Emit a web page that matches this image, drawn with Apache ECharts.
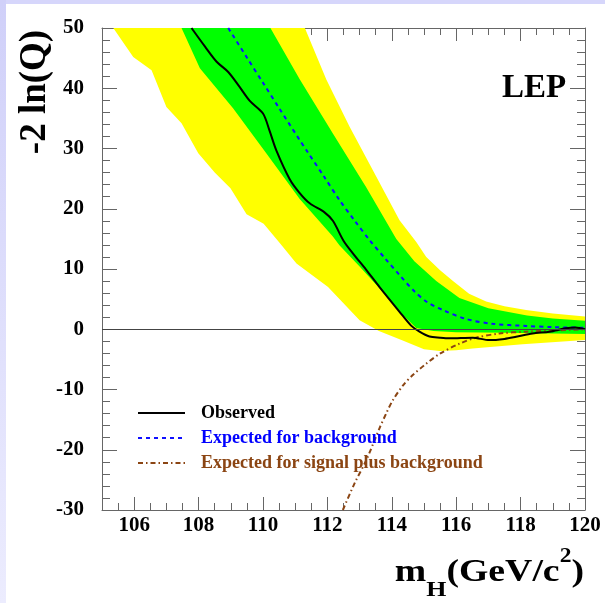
<!DOCTYPE html>
<html>
<head>
<meta charset="utf-8">
<title>LEP -2 ln(Q)</title>
<script src="https://cdn.jsdelivr.net/npm/echarts@6/dist/echarts.min.js"></script>
<style>
html, body { margin: 0; padding: 0; background: #fff; }
#chartMain { width: 605px; height: 603px; }
</style>
</head>
<body>
<div id="chartMain"></div>
<script>
// [mH, -2ln(Q)]
var observed = [
    [107.78, 50], [108.2, 46.9], [108.56, 44.4], [108.92, 42.7], [109.25, 40.4],
    [109.59, 37.9], [110.0, 35.8], [110.2, 33.0], [110.42, 29.6], [110.83, 24.9],
    [111.14, 22.6], [111.45, 20.9], [111.91, 19.4], [112.17, 18.0], [112.5, 14.7],
    [112.79, 12.6], [113.2, 9.9], [113.62, 7.0], [114.24, 2.9], [114.6, 0.6],
    [114.86, -0.4], [115.17, -1.2], [115.5, -1.4], [115.79, -1.5], [116.51, -1.4],
    [117.03, -1.8], [117.5, -1.6], [117.86, -1.25], [118.37, -0.7], [118.9, -0.4],
    [119.41, 0.17], [119.7, 0.3], [120, 0.0]
];
var expectedBkg = [
    [108.92, 50], [109.5, 45.1], [110.0, 40.9], [110.5, 36.7], [111.14, 31.4],
    [111.35, 29.7], [111.9, 25.3], [112.38, 21.4], [112.85, 18.0], [113.31, 14.8],
    [113.8, 11.7], [114.24, 9.0], [114.7, 6.3], [115.1, 4.5], [115.58, 3.2],
    [116.31, 1.7], [117.13, 0.9], [118.17, 0.55], [119.0, 0.35], [120, 0.25]
];
var expectedSigBkg = [
    [112.48, -30], [112.85, -25.5], [113.21, -21.7], [113.62, -16.4], [113.85, -13.7],
    [114.03, -11.8], [114.35, -9.3], [114.65, -7.6], [115.05, -5.8], [115.48, -4.1],
    [116.1, -2.4], [116.62, -1.4], [117.34, -0.7], [118.17, -0.4], [119.0, -0.2], [120, 0.0]
];
// 2 sigma band
var yellowUpper = [
    [110.8, 56.4], [111.3, 50], [111.97, 41.4], [112.69, 33.6], [113.52, 25.3],
    [114.24, 18.1], [114.76, 14.5], [115.07, 12.0], [115.5, 9.8], [115.9, 8.0],
    [116.4, 5.9], [116.93, 4.6], [117.5, 3.8], [118.17, 3.2], [119.0, 2.6], [120, 2.1]
];
var yellowLower = [
    [105.0, 52.7], [105.35, 50], [105.97, 45.2], [106.54, 43.0], [107.0, 36.9],
    [107.47, 34.2], [107.99, 29.2], [108.5, 26.0], [108.99, 23.4], [109.49, 19.1],
    [110.02, 17.5], [110.52, 14.3], [111.04, 10.9], [112.02, 7.0], [113.0, 1.5],
    [113.6, -0.3], [114.3, -1.8], [115.0, -3.3], [115.48, -3.6], [116.0, -3.5],
    [116.51, -3.2], [118.06, -2.5], [120, -1.8]
];
// 1 sigma band
var greenUpper = [
    [109.7, 54.9], [110.23, 50], [111.14, 41.5], [112.17, 32.5], [113.2, 23.6],
    [114.14, 15.0], [114.7, 11.3], [115.38, 8.0], [116.1, 5.2], [117.0, 3.5],
    [118.2, 2.3], [119.0, 1.8], [120, 1.4]
];
var greenLower = [
    [107.0, 53.3], [107.47, 50], [108.04, 43.3], [109.07, 36.7], [110.05, 29.6],
    [111.14, 21.6], [112.17, 15.4], [112.38, 13.9], [113.0, 10.4], [113.41, 8.0],
    [113.83, 5.6], [114.24, 2.9], [114.76, 0.2], [115.3, -0.3], [116.0, -0.5],
    [117.55, -0.6], [120, -0.8]
];
var xMajorTicks = [106, 108, 110, 112, 114, 116, 118, 120];
var legendNames = ['Observed', 'Expected for background', 'Expected for signal plus background'];
var legendColors = ['#000000', '#0000ff', '#8b4513'];

var serifFont = '"Liberation Serif", "Times New Roman", serif';

// polygon between two edges, drawn through the axes
function bandRenderer(upper, lower, color) {
    return function (params, api) {
        var pts = [];
        for (var i = 0; i < upper.length; i++) {
            pts.push(api.coord(upper[i]));
        }
        for (var j = lower.length - 1; j >= 0; j--) {
            pts.push(api.coord(lower[j]));
        }
        return {
            type: 'polygon',
            shape: { points: pts },
            style: { fill: color, stroke: null }
        };
    };
}

function xAxisDef(pos, major, withLabels) {
    return {
        type: 'value',
        position: pos,
        min: 105,
        max: 120,
        interval: 0.5,
        axisLine: { show: !major, onZero: false, lineStyle: { color: '#666', width: 1 } },
        axisTick: major
            ? { inside: true, length: 13, customValues: xMajorTicks, lineStyle: { color: '#666' } }
            : { inside: true, length: 7, lineStyle: { color: '#666' } },
        axisLabel: withLabels
            ? { show: true, customValues: xMajorTicks, margin: 5, color: '#000', fontFamily: serifFont, fontWeight: 'bold', fontSize: 21 }
            : { show: false },
        splitLine: { show: false }
    };
}

function yAxisDef(pos, withLabels) {
    return {
        type: 'value',
        position: pos,
        min: -30,
        max: 50,
        interval: 10,
        axisLine: { show: true, onZero: false, lineStyle: { color: '#666', width: 1 } },
        axisTick: { inside: true, length: 15, lineStyle: { color: '#666' } },
        minorTick: { show: true, splitNumber: 5, length: 8, lineStyle: { color: '#666' } },
        axisLabel: withLabels
            ? { show: true, margin: 18, color: '#000', fontFamily: serifFont, fontWeight: 'bold', fontSize: 21 }
            : { show: false },
        splitLine: { show: false }
    };
}

var legendData = [];
for (var k = 0; k < legendNames.length; k++) {
    legendData.push({ name: legendNames[k], textStyle: { color: legendColors[k] } });
}

var option = {
    animation: false,
    backgroundColor: '#ffffff',
    grid: { left: 102, right: 20, top: 28, bottom: 93, containLabel: false },
    xAxis: [
        xAxisDef('bottom', false, true),
        xAxisDef('bottom', true, false),
        xAxisDef('top', false, false),
        xAxisDef('top', true, false)
    ],
    yAxis: [
        yAxisDef('left', true),
        yAxisDef('right', false)
    ],
    legend: {
        orient: 'vertical',
        left: 137,
        top: 403,
        padding: 0,
        itemWidth: 47,
        itemHeight: 14,
        itemGap: 5,
        selectedMode: false,
        itemStyle: { opacity: 0 },
        textStyle: { fontFamily: serifFont, fontWeight: 'bold', fontSize: 18, lineHeight: 20, padding: [0, 0, 0, 11] },
        data: legendData
    },
    graphic: [
        {
            type: 'rect', left: 0, top: 0, silent: true,
            shape: { width: 605, height: 4 },
            style: { fill: '#d6d6fb' }
        },
        {
            type: 'rect', left: 0, top: 0, silent: true,
            shape: { width: 6, height: 603 },
            style: {
                fill: new echarts.graphic.LinearGradient(0, 0, 0, 1, [
                    { offset: 0, color: '#d0d0f9' },
                    { offset: 1, color: '#ececfe' }
                ])
            }
        },
        {
            type: 'text', x: 35, y: 92, rotation: Math.PI / 2,
            style: { text: '-2 ln(Q)', fill: '#000', font: 'bold 37px ' + serifFont, align: 'center', verticalAlign: 'middle' }
        },
        {
            type: 'text', x: 502, y: 88,
            style: { text: 'LEP', fill: '#000', font: 'bold 33px ' + serifFont, align: 'left', verticalAlign: 'middle' }
        },
        {
            type: 'text', x: 584, y: 601, scaleX: 1.18,
            style: {
                text: '{m|m}{s|H}{m|(GeV/c}{p|2}{m|)}',
                align: 'right',
                verticalAlign: 'bottom',
                fill: '#000',
                rich: {
                    m: { fontSize: 32, fontWeight: 'bold', fontFamily: serifFont, verticalAlign: 'bottom', padding: [0, 0, 12, 0] },
                    s: { fontSize: 22, fontWeight: 'bold', fontFamily: serifFont, verticalAlign: 'bottom', padding: [0, 0, 0, 0] },
                    p: { fontSize: 20, fontWeight: 'bold', fontFamily: serifFont, verticalAlign: 'bottom', padding: [0, 0, 34, 0] }
                }
            }
        }
    ],
    series: [
        {
            type: 'custom', name: 'band2', clip: true, silent: true, z: 1,
            data: [[112, 0]],
            renderItem: bandRenderer(yellowUpper, yellowLower, '#ffff00')
        },
        {
            type: 'custom', name: 'band1', clip: true, silent: true, z: 1,
            data: [[112, 0]],
            renderItem: bandRenderer(greenUpper, greenLower, '#00ff00')
        },
        {
            name: legendNames[0], type: 'line', data: observed, symbol: 'none', clip: true, z: 4, smooth: 0.3,
            lineStyle: { color: '#000', width: 2 }, itemStyle: { color: '#000' },
            markLine: {
                silent: true, symbol: 'none', label: { show: false },
                lineStyle: { color: '#444', width: 1, type: 'solid' },
                data: [{ yAxis: 0 }]
            }
        },
        {
            name: legendNames[1], type: 'line', data: expectedBkg, symbol: 'none', clip: true, z: 3, smooth: 0.3,
            lineStyle: { color: '#1010ff', width: 2, type: [4, 4] }, itemStyle: { color: '#1010ff' }
        },
        {
            name: legendNames[2], type: 'line', data: expectedSigBkg, symbol: 'none', clip: true, z: 3, smooth: 0.3,
            lineStyle: { color: '#8b4513', width: 2, type: [5, 3, 1.5, 3] }, itemStyle: { color: '#8b4513' }
        }
    ]
};

var chartMain = document.getElementById('chartMain');
var mychart = echarts.init(chartMain);
mychart.setOption(option);
</script>
</body>
</html>
